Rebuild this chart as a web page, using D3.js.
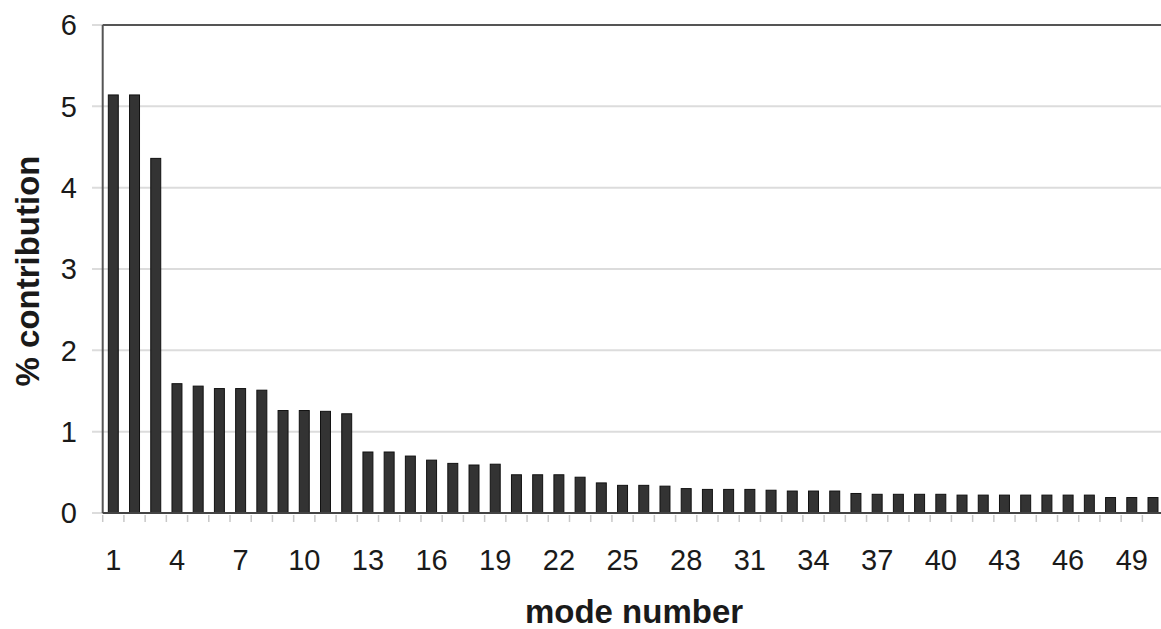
<!DOCTYPE html>
<html>
<head>
<meta charset="utf-8">
<script src="https://cdn.jsdelivr.net/npm/d3@7"></script>
<style>
  html, body { margin: 0; padding: 0; background: #fff; }
  svg { display: block; font-family: "Liberation Sans", Arial, sans-serif; }
</style>
</head>
<body>
<div class="main-container"></div>
<script>
// mode numbers 1..50
var modes = d3.range(1, 51);
// % contribution of each mode
var contribution = [
  5.14, 5.14, 4.36, 1.59, 1.56, 1.53, 1.53, 1.51, 1.26, 1.26,
  1.25, 1.22, 0.75, 0.75, 0.70, 0.65, 0.61, 0.59, 0.60, 0.47,
  0.47, 0.47, 0.44, 0.37, 0.34, 0.34, 0.33, 0.30, 0.29, 0.29,
  0.29, 0.28, 0.27, 0.27, 0.27, 0.24, 0.23, 0.23, 0.23, 0.23,
  0.22, 0.22, 0.22, 0.22, 0.22, 0.22, 0.22, 0.19, 0.19, 0.19
];
var yTicks = [0, 1, 2, 3, 4, 5, 6];
var xLabelModes = [1, 4, 7, 10, 13, 16, 19, 22, 25, 28, 31, 34, 37, 40, 43, 46, 49];

var theData = modes.map(function (m, i) { return { mode: m, value: contribution[i] }; });

var width = 1161, height = 629;
var plotLeft = 102.7, plotRight = 1163.6, plotTop = 25, plotBottom = 513;

var svg = d3.select(".main-container")
    .append("svg")
    .attr("width", width)
    .attr("height", height);

var x = d3.scaleBand()
    .domain(modes)
    .range([plotLeft, plotRight])
    .paddingInner(0.53)
    .paddingOuter(0.265);

var y = d3.scaleLinear()
    .domain([0, 6])
    .range([plotBottom, plotTop]);

// horizontal gridlines
svg.append("g")
    .selectAll("line")
    .data(yTicks)
    .enter()
    .append("line")
    .attr("x1", 92)
    .attr("x2", width)
    .attr("y1", function (d) { return y(d); })
    .attr("y2", function (d) { return y(d); })
    .style("stroke", "#dcdcdc")
    .style("stroke-width", 2);

// top border + left axis line
svg.append("line")
    .attr("x1", plotLeft).attr("x2", width)
    .attr("y1", y(6)).attr("y2", y(6))
    .style("stroke", "#555").style("stroke-width", 2);
svg.append("line")
    .attr("x1", plotLeft).attr("x2", plotLeft)
    .attr("y1", y(6)).attr("y2", y(0))
    .style("stroke", "#555").style("stroke-width", 2);

// y tick labels
svg.append("g")
    .selectAll("text")
    .data(yTicks)
    .enter()
    .append("text")
    .attr("x", 77)
    .attr("y", function (d) { return y(d); })
    .attr("dy", "0.36em")
    .attr("text-anchor", "end")
    .style("font-size", "29px")
    .style("fill", "#1a1a1a")
    .text(function (d) { return d; });

// bars
svg.append("g")
    .selectAll("rect")
    .data(theData)
    .enter()
    .append("rect")
    .attr("x", function (d) { return x(d.mode); })
    .attr("y", function (d) { return y(d.value); })
    .attr("width", x.bandwidth())
    .attr("height", function (d) { return y(0) - y(d.value); })
    .style("fill", "#333")
    .style("stroke", "#111")
    .style("stroke-width", 1);

// x axis line
svg.append("line")
    .attr("x1", plotLeft).attr("x2", width)
    .attr("y1", y(0)).attr("y2", y(0))
    .style("stroke", "#444").style("stroke-width", 2);

// tick marks at band boundaries
var step = x.step();
var bounds = d3.range(0, modes.length + 1).map(function (k) { return plotLeft + k * step; });
svg.append("g")
    .selectAll("line")
    .data(bounds)
    .enter()
    .append("line")
    .attr("x1", function (d) { return d; })
    .attr("x2", function (d) { return d; })
    .attr("y1", y(0) + 2)
    .attr("y2", y(0) + 9)
    .style("stroke", "#c8c8c8")
    .style("stroke-width", 1.5);

// x tick labels
svg.append("g")
    .selectAll("text")
    .data(xLabelModes)
    .enter()
    .append("text")
    .attr("x", function (d) { return x(d) + x.bandwidth() / 2; })
    .attr("y", 570)
    .attr("text-anchor", "middle")
    .style("font-size", "29px")
    .style("fill", "#1a1a1a")
    .text(function (d) { return d; });

// axis titles
svg.append("text")
    .attr("x", 634)
    .attr("y", 623)
    .attr("text-anchor", "middle")
    .style("font-size", "33px")
    .style("font-weight", "bold")
    .style("fill", "#1a1a1a")
    .text("mode number");

svg.append("text")
    .attr("transform", "translate(39,271) rotate(-90)")
    .attr("text-anchor", "middle")
    .style("font-size", "33px")
    .style("font-weight", "bold")
    .style("fill", "#1a1a1a")
    .text("% contribution");
</script>
</body>
</html>
